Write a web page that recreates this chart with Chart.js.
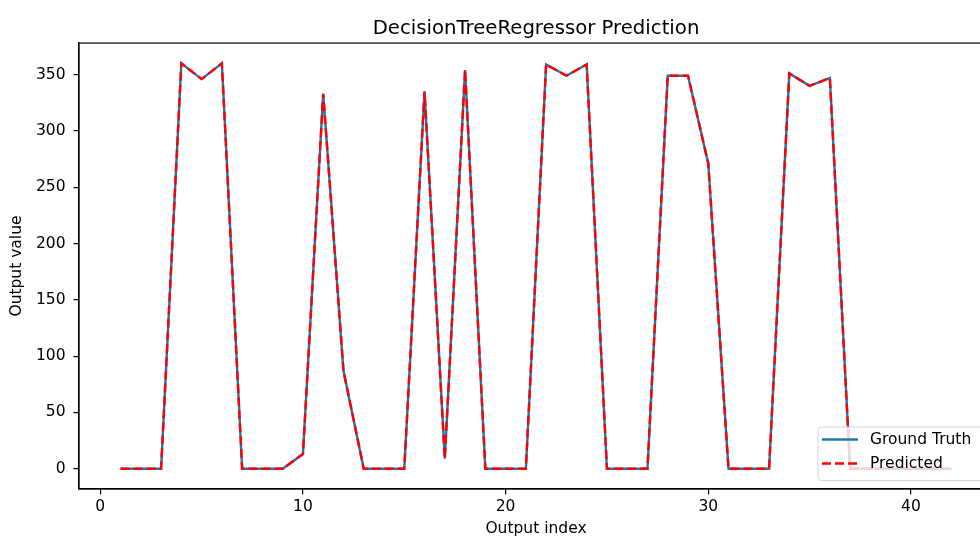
<!DOCTYPE html>
<html>
<head>
<meta charset="utf-8">
<script src="https://cdn.jsdelivr.net/npm/chart.js@4"></script>
<style>
  html, body { margin: 0; padding: 0; overflow: hidden; background: #fff; }
  #wrap { width: 1000px; height: 538px; }
</style>
</head>
<body>
<div id="wrap"><canvas id="predChart" width="1000" height="538"></canvas></div>
<script>
const outputIndex = [1, 2, 3, 4, 5, 6, 7, 8, 9, 10, 11, 12, 13, 14, 15, 16, 17, 18, 19, 20, 21,
  22, 23, 24, 25, 26, 27, 28, 29, 30, 31, 32, 33, 34, 35, 36, 37, 38, 39, 40, 41, 42];
const groundTruth = [0, 0, 0, 360, 346, 360, 0, 0, 0, 13, 333, 87, 0, 0, 0, 335, 9, 354, 0, 0, 0,
  359, 349, 359, 0, 0, 0, 349, 349, 271, 0, 0, 0, 351, 340, 347, 0, 0, 0, 0, 0, 0];
const predicted = [0, 0, 0, 360, 346, 360, 0, 0, 0, 13, 333, 87, 0, 0, 0, 335, 9, 354, 0, 0, 0,
  359, 349, 359, 0, 0, 0, 349, 349, 271, 0, 0, 0, 351, 340, 347, 0, 0, 0, 0, 0, 0];
const xTicks = [0, 10, 20, 30, 40];
const yTicks = [0, 50, 100, 150, 200, 250, 300, 350];

const FONT = 'DejaVu Sans';
const BLUE = '#1f77b4';
const RED = '#ff0000';

function toPoints(values) {
  return outputIndex.map((x, i) => ({ x, y: values[i] }));
}

// matplotlib-style frame: top and right spines
const framePlugin = {
  id: 'frame',
  afterDraw(chart) {
    const { ctx, chartArea: a } = chart;
    ctx.save();
    ctx.strokeStyle = '#000';
    ctx.lineWidth = 1.2;
    ctx.strokeRect(a.left, a.top, a.right - a.left, a.bottom - a.top);
    ctx.restore();
  }
};

// legend in lower right corner of the axes
const cornerLegend = {
  id: 'cornerLegend',
  afterDraw(chart) {
    const { ctx, chartArea: a } = chart;
    const w = 167, h = 53.5;
    const x = a.right - 8 - w, y = a.bottom - 8.5 - h;
    ctx.save();
    ctx.beginPath();
    ctx.roundRect(x, y, w, h, 4);
    ctx.fillStyle = 'rgba(255,255,255,0.8)';
    ctx.fill();
    ctx.strokeStyle = 'rgba(204,204,204,0.8)';
    ctx.lineWidth = 1;
    ctx.stroke();
    ctx.font = '15.5px "' + FONT + '"';
    ctx.textBaseline = 'middle';
    ctx.fillStyle = '#000';
    chart.data.datasets.forEach((ds, i) => {
      const ly = y + 12.5 + i * 24;
      ctx.beginPath();
      ctx.strokeStyle = ds.borderColor;
      ctx.lineWidth = ds.borderWidth;
      ctx.setLineDash(ds.borderDash || []);
      ctx.moveTo(x + 4, ly);
      ctx.lineTo(x + 40, ly);
      ctx.stroke();
      ctx.setLineDash([]);
      ctx.fillText(ds.label, x + 52, ly);
    });
    ctx.restore();
  }
};

new Chart(document.getElementById('predChart'), {
  type: 'line',
  data: {
    datasets: [{
      label: 'Ground Truth',
      data: toPoints(groundTruth),
      borderColor: BLUE,
      borderWidth: 2.4,
      pointRadius: 0,
      tension: 0,
      fill: false,
      order: 2
    }, {
      label: 'Predicted',
      data: toPoints(predicted),
      borderColor: RED,
      borderWidth: 2.4,
      borderDash: [9, 4],
      pointRadius: 0,
      tension: 0,
      fill: false,
      order: 1
    }]
  },
  options: {
    responsive: false,
    animation: false,
    layout: { padding: { left: 0, right: 7, top: 0, bottom: 0 } },
    plugins: {
      legend: { display: false },
      tooltip: { enabled: false },
      title: {
        display: true,
        fullSize: false,
        text: 'DecisionTreeRegressor Prediction',
        color: '#000',
        font: { family: FONT, size: 19.7, weight: 'normal' },
        padding: { top: 16.7, bottom: 2.7 }
      }
    },
    scales: {
      x: {
        type: 'linear',
        min: -1.05,
        max: 44.05,
        afterBuildTicks: s => { s.ticks = xTicks.map(v => ({ value: v })); },
        afterFit: s => { s.height = 49; },
        grid: { drawOnChartArea: false, tickLength: 5.5, color: '#000', lineWidth: 1.2 },
        border: { display: true, color: '#000', width: 1.2 },
        ticks: { color: '#000', padding: 3, maxRotation: 0, font: { family: FONT, size: 15.5 } },
        title: {
          display: true, text: 'Output index', color: '#000',
          font: { family: FONT, size: 15.5 }, padding: { top: 0, bottom: 0 }
        }
      },
      y: {
        min: -18,
        max: 378,
        afterBuildTicks: s => { s.ticks = yTicks.map(v => ({ value: v })); },
        afterFit: s => { s.width = 79; },
        grid: { drawOnChartArea: false, tickLength: 5.5, color: '#000', lineWidth: 1.2 },
        border: { display: true, color: '#000', width: 1.2 },
        ticks: { color: '#000', padding: 8, font: { family: FONT, size: 15.5 } },
        title: {
          display: true, text: 'Output value', color: '#000',
          font: { family: FONT, size: 15.5 }, padding: { top: 8, bottom: 0 }
        }
      }
    }
  },
  plugins: [framePlugin, cornerLegend]
});
</script>
</body>
</html>
